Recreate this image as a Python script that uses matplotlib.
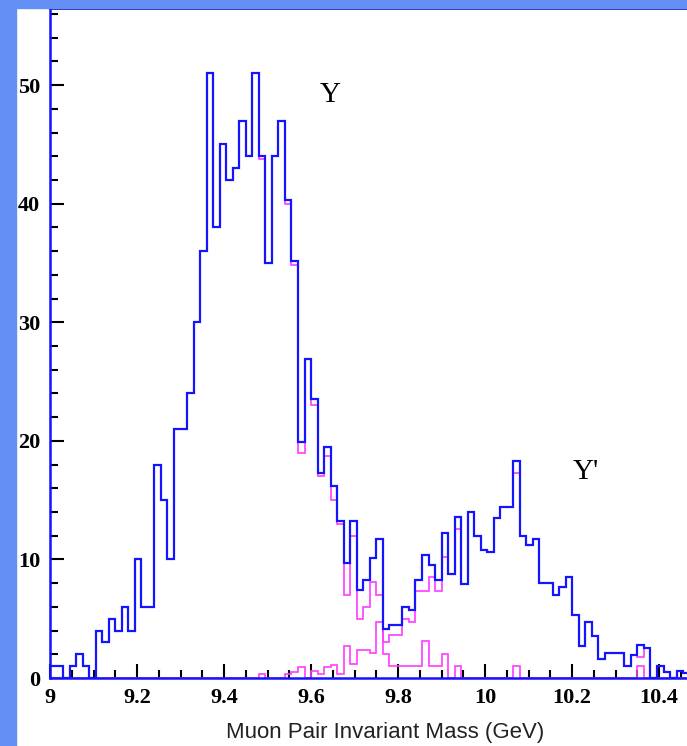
import numpy as np
import matplotlib
matplotlib.use("Agg")
import matplotlib.pyplot as plt
from matplotlib.patches import Rectangle
from matplotlib.ticker import MultipleLocator, FixedLocator

# histogram binning (GeV)
bin_start = 9.0
bin_width = 0.015

# blue: total of both peaks, counts per bin
total_counts = [
    1, 1, 0, 1, 2, 1, 0, 4, 3, 5, 4, 6, 4, 10, 6, 6, 18, 15, 10, 21, 21, 24, 30, 36,
    51, 38, 45, 42, 43, 47, 44, 51, 44, 35, 44, 47, 40.3, 35.2, 19.9, 26.9, 23.5, 17.3,
    19.5, 16.2, 13.2, 9.7, 13.2, 7.4,
    8.3, 10.1, 11.7, 4.1, 4.5, 4.5, 6.0, 5.7, 8.3, 10.4, 9.5, 8.3, 12.2, 8.8, 13.6, 7.9,
    14.0, 12.0, 10.8, 10.6, 13.5, 14.4, 14.4, 18.3, 12.0, 11.2,
    11.7, 8.0, 8.0, 7.0, 7.7, 8.5, 5.3, 2.7, 4.7, 3.5, 1.6, 2.1, 2.1, 2.1, 1.0, 1.9,
    2.8, 2.5, 0, 1.0, 0.5, 0, 0.6, 0.4, 0, 0,
]

# magenta: Upsilon(1S) component
y1s_counts = [
    1, 1, 0, 1, 2, 1, 0, 4, 3, 5, 4, 6, 4, 10, 6, 6, 18, 15, 10, 21, 21, 24, 30, 36,
    51, 38, 45, 42, 43, 47, 44, 51, 43.8, 35, 44, 47, 40, 34.8, 19.0, 26.9, 23.0, 17.0,
    18.7, 15.0, 13.0, 7.0, 12.0, 5.0,
    6.0, 8.1, 7.0, 2.0, 1.0, 1.0, 1.0, 1.0, 1.0, 3.1, 1.0, 1.0, 2.0, 0, 1.0, 0,
    0, 0, 0, 0, 0, 0, 0, 1.0, 0, 0,
    0, 0, 0, 0, 0, 0, 0, 0, 0, 0, 0, 0, 0, 0, 0, 0,
    1.0, 0, 0, 0, 0, 0, 0, 0, 0, 0,
]

# magenta: Upsilon(2S) component
y2s_counts = [
    0, 0, 0, 0, 0, 0, 0, 0, 0, 0, 0, 0, 0, 0, 0, 0, 0, 0, 0, 0, 0, 0, 0, 0,
    0, 0, 0, 0, 0, 0, 0, 0, 0.3, 0, 0, 0, 0.3, 0.5, 0.9, 0, 0.6, 0.3,
    0.9, 1.1, 0.3, 2.7, 1.2, 2.4,
    2.4, 2.1, 4.7, 3.0, 3.6, 3.6, 5.0, 4.7, 7.3, 7.3, 8.5, 7.3, 10.2, 8.8, 12.6, 7.9,
    14.0, 12.0, 10.8, 10.6, 13.5, 14.4, 14.4, 17.3, 12.0, 11.2,
    11.7, 8.0, 8.0, 7.0, 7.7, 8.5, 5.3, 2.7, 4.7, 3.5, 1.6, 2.1, 2.1, 2.1, 1.0, 1.9,
    1.8, 2.5, 0, 1.0, 0.5, 0, 0.6, 0.4, 0, 0,
]

x_ticks = [9.0, 9.2, 9.4, 9.6, 9.8, 10.0, 10.2, 10.4]
x_tick_labels = ["9", "9.2", "9.4", "9.6", "9.8", "10", "10.2", "10.4"]
y_ticks = [0, 10, 20, 30, 40, 50]

edges = bin_start + bin_width * np.arange(len(total_counts) + 1)

W, H = 687, 746
fig = plt.figure(figsize=(W / 100, H / 100), dpi=100)
fig.patch.set_facecolor("white")

# light blue frame strips (left and top)
strip = "#6490f6"
fig.patches.append(Rectangle((0, 0), 16 / W, 1, transform=fig.transFigure,
                             color=strip, zorder=0))
fig.patches.append(Rectangle((0, 1 - 8 / H), 1, 8 / H, transform=fig.transFigure,
                             color=strip, zorder=0))

ax = fig.add_axes([50 / W, 68 / H, 1 - 50 / W, (678 - 8) / H])
ax.set_facecolor("white")

magenta = "#ff3cff"
blue = "#1414ff"
ax.stairs(y1s_counts, edges, color=magenta, linewidth=1.2, zorder=2)
ax.stairs(y2s_counts, edges, color=magenta, linewidth=1.2, zorder=2)
ax.stairs(total_counts, edges, color=blue, linewidth=1.6, zorder=3)

ax.set_xlim(9.0, 10.464)
ax.set_ylim(0, 56.5)

ax.xaxis.set_major_locator(FixedLocator(x_ticks))
ax.set_xticklabels(x_tick_labels)
ax.xaxis.set_minor_locator(MultipleLocator(0.05))
ax.yaxis.set_major_locator(FixedLocator(y_ticks))
ax.yaxis.set_minor_locator(MultipleLocator(2))

ax.tick_params(which="both", direction="in", color="black", width=1.5,
               top=False, right=False)
ax.tick_params(which="major", length=10)
ax.tick_params(which="minor", length=5.5)
ax.tick_params(axis="x", pad=7)
ax.tick_params(axis="y", pad=7)

for lab in ax.get_xticklabels() + ax.get_yticklabels():
    lab.set_fontfamily("Liberation Serif")
    lab.set_fontweight("bold")
    lab.set_fontsize(16)

ax.spines["right"].set_visible(False)
ax.spines["left"].set_color(blue)
ax.spines["left"].set_linewidth(1.8)
ax.spines["bottom"].set_color(blue)
ax.spines["bottom"].set_linewidth(1.8)
ax.spines["top"].set_color("#1010c8")
ax.spines["top"].set_linewidth(2.0)
for s in ax.spines.values():
    s.set_zorder(4)

ax.set_xlabel("Muon Pair Invariant Mass (GeV)", fontfamily="Liberation Sans",
              fontsize=16, color="#222222")
ax.xaxis.label.set_va("center")
ax.xaxis.set_label_coords(0.526, -0.0806)

ax.text(9.644, 49.2, "Υ", fontfamily="Liberation Serif", fontsize=21,
        ha="center", va="center")
ax.text(10.232, 17.4, "Υ'", fontfamily="Liberation Serif", fontsize=21,
        ha="center", va="center")

fig.savefig("out.png", dpi=100)
